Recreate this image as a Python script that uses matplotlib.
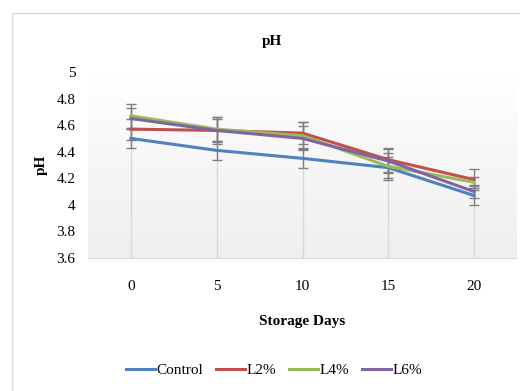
import matplotlib

matplotlib.use("Agg")
import matplotlib.pyplot as plt
import numpy as np
from matplotlib.colors import LinearSegmentedColormap
from matplotlib.patches import Rectangle

plt.rcParams["font.family"] = ["Liberation Serif", "DejaVu Serif"]

days = [0, 5, 10, 15, 20]
series_names = ["Control", "L2%", "L4%", "L6%"]
control = [4.50, 4.41, 4.35, 4.28, 4.07]
l2 = [4.57, 4.56, 4.54, 4.34, 4.19]
l4 = [4.67, 4.57, 4.52, 4.29, 4.17]
l6 = [4.65, 4.56, 4.50, 4.33, 4.10]
control_err = [0.07, 0.07, 0.075, 0.08, 0.07]
l2_err = [0.08, 0.09, 0.08, 0.09, 0.08]
l4_err = [0.09, 0.09, 0.10, 0.10, 0.04]
l6_err = [0.08, 0.10, 0.09, 0.09, 0.05]
colors = ["#4F81BD", "#C0504D", "#9BBB59", "#8064A2"]

values = [control, l2, l4, l6]
errors = [control_err, l2_err, l4_err, l6_err]

fig = plt.figure(figsize=(5.2, 3.91), dpi=100)
fig.patches.append(Rectangle((12 / 520, -0.1), 1.2, 1 - 13 / 391 + 0.1,
                             transform=fig.transFigure, fill=False,
                             edgecolor="#d9d9d9", lw=1.0))
ax = fig.add_axes([88 / 520, 1 - 258 / 391, 429 / 520, 186 / 391])

xpos = np.arange(len(days))
ax.set_xlim(-0.5, len(days) - 0.5)
ax.set_ylim(3.6, 5.0)

# plot area gradient: light grey at the bottom fading to white at the top
grad = np.linspace(0, 1, 256).reshape(-1, 1)
cmap = LinearSegmentedColormap.from_list("g", ["#efefef", "#f6f6f6", "#ffffff"])
ax.imshow(grad, extent=[-0.5, len(days) - 0.5, 3.6, 5.0], aspect="auto",
          cmap=cmap, origin="lower", zorder=0)

# drop lines
tops = np.max(values, axis=0)
ax.vlines(xpos, 3.6, tops, color="#d9d9d9", lw=1.0, zorder=1)

for v, e in zip(values, errors):
    ax.errorbar(xpos, v, yerr=e, fmt="none", ecolor="#7f7f7f", elinewidth=1.0,
                capsize=3.5, capthick=1.0, zorder=2)
for name, v, c in zip(series_names, values, colors):
    ax.plot(xpos, v, color=c, lw=2.2, label=name, zorder=3)

for s in ["top", "right", "left"]:
    ax.spines[s].set_visible(False)
ax.spines["bottom"].set_color("#d9d9d9")
ax.tick_params(length=0, labelsize=11)
ax.tick_params(axis="x", pad=16)
ax.tick_params(axis="y", pad=9)
ax.set_xticks(xpos)
ax.set_xticklabels([str(d) for d in days])
ax.set_yticks(np.arange(3.6, 5.01, 0.2))
ax.set_yticklabels(["3.6", "3.8", "4", "4.2", "4.4", "4.6", "4.8", "5"])

fig.text(272 / 520, 1 - 41 / 391, "pH", ha="center", va="center",
         fontsize=11, fontweight="bold")
fig.text(41 / 520, 1 - 165 / 391, "pH", ha="center", va="center",
         fontsize=11, fontweight="bold", rotation=90)
fig.text(302 / 520, 1 - 322 / 391, "Storage Days", ha="center", va="center",
         fontsize=11, fontweight="bold")

fig.legend(loc="center", bbox_to_anchor=(274 / 520, 1 - 370 / 391), ncol=4,
           frameon=False, fontsize=11, handlelength=1.9, handletextpad=0.1,
           columnspacing=0.85)

fig.savefig("out.png", dpi=100, facecolor="white")
